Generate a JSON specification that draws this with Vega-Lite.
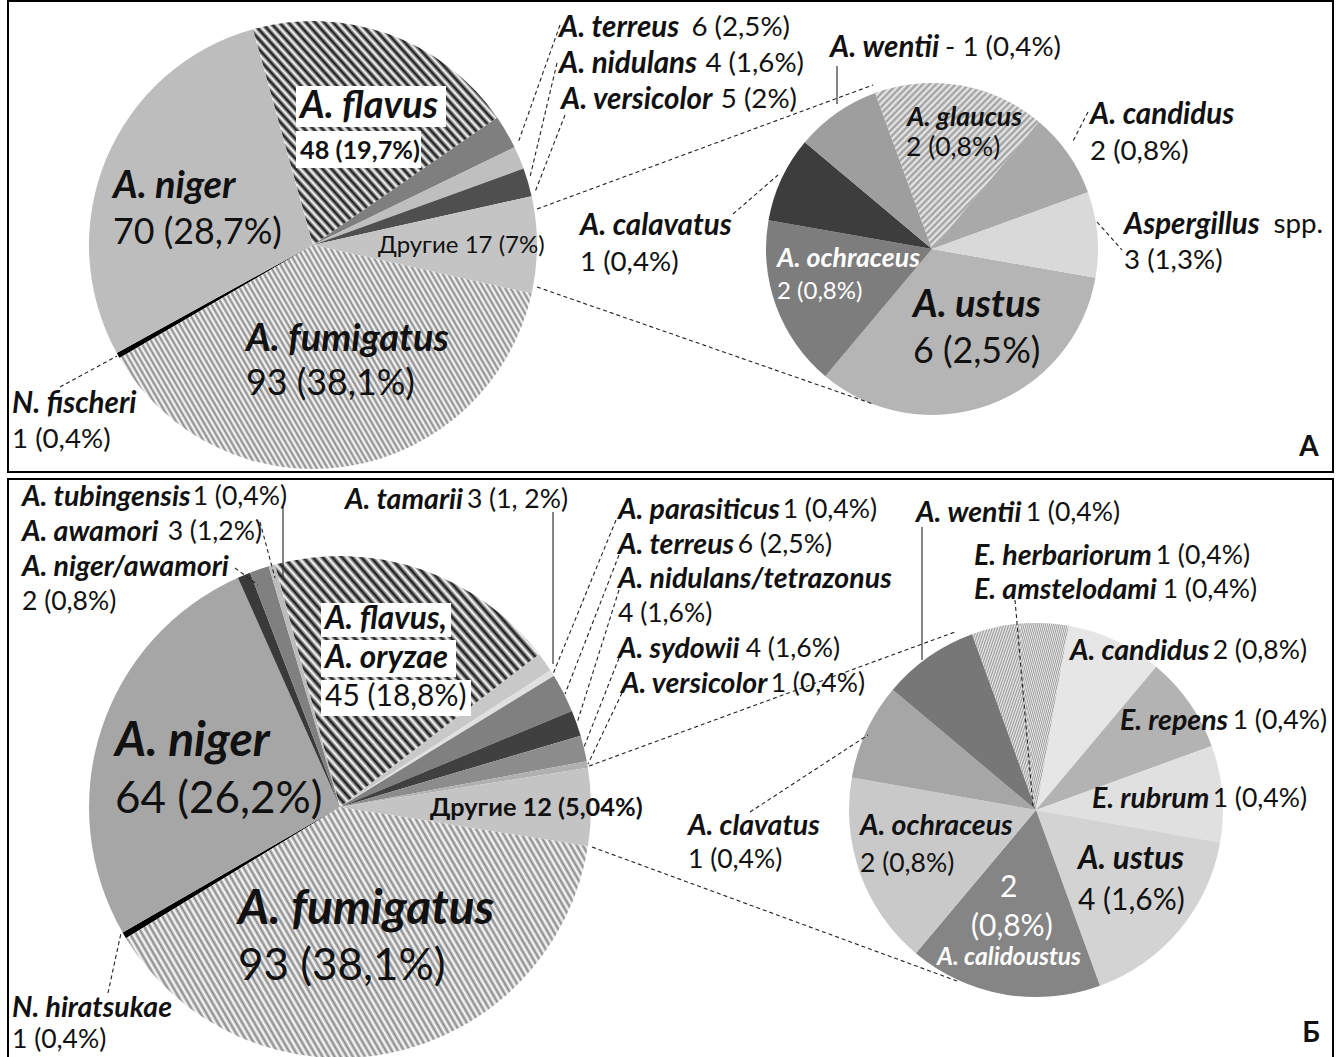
{
"$schema":"https://vega.github.io/schema/vega-lite/v6.json",
"width":1338,"height":1057,"autosize":{"type":"none"},"padding":0,"background":"#ffffff",
"config":{"view":{"stroke":null}},
"datasets":{
"A_main":[{"cat":"A. fumigatus","v":93,"i":1},{"cat":"N. fischeri","v":1,"i":2},{"cat":"A. niger","v":70,"i":3},{"cat":"A. flavus","v":48,"i":4},{"cat":"A. terreus","v":6,"i":5},{"cat":"A. nidulans","v":4,"i":6},{"cat":"A. versicolor","v":5,"i":7},{"cat":"Другие","v":17,"i":8}],
"A_sub":[{"cat":"A. ustus","n":6,"v":4,"i":1},{"cat":"A. ochraceus","n":2,"v":2,"i":2},{"cat":"A. calavatus","n":1,"v":1,"i":3},{"cat":"A. wentii","n":1,"v":1,"i":4},{"cat":"A. glaucus","n":2,"v":2,"i":5},{"cat":"A. candidus","n":2,"v":1,"i":6},{"cat":"Aspergillus spp.","n":3,"v":1,"i":7}],
"B_main":[{"cat":"A. fumigatus","v":93,"i":1},{"cat":"N. hiratsukae","v":1,"i":2},{"cat":"A. niger","v":64,"i":3},{"cat":"A. niger/awamori","v":2,"i":4},{"cat":"A. awamori","v":3,"i":5},{"cat":"A. tubingensis","v":1,"i":6},{"cat":"A. flavus, A. oryzae","v":45,"i":7},{"cat":"A. tamarii","v":3,"i":8},{"cat":"A. parasiticus","v":1,"i":9},{"cat":"A. terreus","v":6,"i":10},{"cat":"A. nidulans/tetrazonus","v":4,"i":11},{"cat":"A. sydowii","v":4,"i":12},{"cat":"A. versicolor","v":1,"i":13},{"cat":"Другие","v":12,"i":14}],
"B_sub":[{"cat":"E. herbariorum","n":1,"v":0.5,"i":1},{"cat":"E. amstelodami","n":1,"v":0.5,"i":2},{"cat":"A. candidus","n":2,"v":1,"i":3},{"cat":"E. repens","n":1,"v":1,"i":4},{"cat":"E. rubrum","n":1,"v":1,"i":5},{"cat":"A. ustus","n":4,"v":2,"i":6},{"cat":"A. calidoustus","n":2,"v":2,"i":7},{"cat":"A. ochraceus","n":2,"v":2,"i":8},{"cat":"A. clavatus","n":1,"v":1,"i":9},{"cat":"A. wentii","n":1,"v":1,"i":10}],
"frames":[{"x":8,"y":1,"x2":1333,"y2":472},{"x":8,"y":479,"x2":1333,"y2":1070}],
"boxes":[{"x":296,"y":86,"x2":446,"y2":127},{"x":296,"y":131,"x2":421,"y2":168},{"x":321,"y":603,"x2":451,"y2":637},{"x":321,"y":640,"x2":456,"y2":677},{"x":321,"y":680,"x2":471,"y2":716}],
"dashed":[{"x":537,"y":209,"x2":873,"y2":85},{"x":537,"y":287,"x2":873,"y2":404},{"x":560,"y":25,"x2":518,"y2":143},{"x":557,"y":63,"x2":530,"y2":177},{"x":565,"y":115,"x2":535,"y2":192},{"x":733,"y":214,"x2":778,"y2":175},{"x":1088,"y":112,"x2":1072,"y2":143},{"x":1097,"y":222,"x2":1122,"y2":250},{"x":60,"y":387,"x2":117,"y2":356},{"x":589,"y":766,"x2":955,"y2":632},{"x":592,"y":847,"x2":957,"y2":981},{"x":260,"y":522,"x2":275,"y2":578},{"x":235,"y":568,"x2":258,"y2":585},{"x":616,"y":520,"x2":553,"y2":674},{"x":619,"y":555,"x2":565,"y2":694},{"x":619,"y":590,"x2":577,"y2":723},{"x":619,"y":658,"x2":584,"y2":747},{"x":622,"y":693,"x2":588,"y2":764},{"x":1015,"y":600,"x2":1033,"y2":806},{"x":750,"y":812,"x2":868,"y2":735},{"x":108,"y":993,"x2":121,"y2":933}],
"solid":[{"x":837,"y":66,"x2":837,"y2":104},{"x":283,"y":507,"x2":283,"y2":578},{"x":553,"y":512,"x2":553,"y2":664},{"x":922,"y":527,"x2":922,"y2":660}],
"names":[{"t":"A. terreus","x":559,"y":28,"tier":"mA","ink":"d"},{"t":"A. nidulans","x":559,"y":64,"tier":"mA","ink":"d"},{"t":"A. versicolor","x":561,"y":100,"tier":"mA","ink":"d"},{"t":"A. wentii","x":830,"y":48,"tier":"mA","ink":"d"},{"t":"A. glaucus","x":907,"y":118,"tier":"sm","ink":"d"},{"t":"A. candidus","x":1090,"y":115,"tier":"mA","ink":"d"},{"t":"Aspergillus","x":1124,"y":225,"tier":"mA","ink":"d"},{"t":"A. calavatus","x":580,"y":226,"tier":"mA","ink":"d"},{"t":"A. ochraceus","x":777,"y":259,"tier":"sm","ink":"l"},{"t":"A. ustus","x":913,"y":306,"tier":"l","ink":"d"},{"t":"A. flavus","x":300,"y":107,"tier":"l","ink":"d"},{"t":"A. niger","x":113,"y":187,"tier":"l","ink":"d"},{"t":"A. fumigatus","x":246,"y":340,"tier":"l","ink":"d"},{"t":"N. fischeri","x":12,"y":404,"tier":"mA","ink":"d"},
{"t":"A. tubingensis","x":22,"y":497,"tier":"m","ink":"d"},{"t":"A. awamori","x":22,"y":532,"tier":"m","ink":"d"},{"t":"A. niger/awamori","x":22,"y":567,"tier":"m","ink":"d"},{"t":"A. tamarii","x":345,"y":500,"tier":"m","ink":"d"},{"t":"A. parasiticus","x":618,"y":510,"tier":"m","ink":"d"},{"t":"A. terreus","x":618,"y":545,"tier":"m","ink":"d"},{"t":"A. nidulans/tetrazonus","x":618,"y":579,"tier":"m","ink":"d"},{"t":"A. sydowii","x":618,"y":649,"tier":"m","ink":"d"},{"t":"A. versicolor","x":621,"y":684,"tier":"m","ink":"d"},{"t":"A. wentii","x":916,"y":513,"tier":"m","ink":"d"},{"t":"E. herbariorum","x":974,"y":556,"tier":"m","ink":"d"},{"t":"E. amstelodami","x":974,"y":590,"tier":"m","ink":"d"},{"t":"A. candidus","x":1070,"y":651,"tier":"m","ink":"d"},{"t":"E. repens","x":1120,"y":721,"tier":"m","ink":"d"},{"t":"E. rubrum","x":1092,"y":799,"tier":"m","ink":"d"},{"t":"A. ustus","x":1078,"y":860,"tier":"ml","ink":"d"},{"t":"A. calidoustus","x":937,"y":958,"tier":"s","ink":"l"},{"t":"A. ochraceus","x":860,"y":826,"tier":"m","ink":"d"},{"t":"A. clavatus","x":688,"y":826,"tier":"m","ink":"d"},{"t":"A. flavus,","x":325,"y":620,"tier":"ml","ink":"d"},{"t":"A. oryzae","x":325,"y":659,"tier":"ml","ink":"d"},{"t":"A. niger","x":115,"y":742,"tier":"xl","ink":"d"},{"t":"A. fumigatus","x":238,"y":910,"tier":"xl","ink":"d"},{"t":"N. hiratsukae","x":12,"y":1008,"tier":"m","ink":"d"}],
"numsR":[{"t":"6 (2,5%)","x":790,"y":28,"tier":"mA","ink":"d"},{"t":"4 (1,6%)","x":804,"y":64,"tier":"mA","ink":"d"},{"t":"5 (2%)","x":797,"y":100,"tier":"mA","ink":"d"},{"t":"- 1 (0,4%)","x":1061,"y":48,"tier":"mA","ink":"d"},{"t":"spp.","x":1323,"y":225,"tier":"mA","ink":"d"},
{"t":"1 (0,4%)","x":287,"y":497,"tier":"m","ink":"d"},{"t":"3 (1,2%)","x":262,"y":532,"tier":"m","ink":"d"},{"t":"3 (1, 2%)","x":568,"y":500,"tier":"m","ink":"d"},{"t":"1 (0,4%)","x":877,"y":510,"tier":"m","ink":"d"},{"t":"6 (2,5%)","x":832,"y":545,"tier":"m","ink":"d"},{"t":"4 (1,6%)","x":840,"y":649,"tier":"m","ink":"d"},{"t":"1 (0,4%)","x":865,"y":684,"tier":"m","ink":"d"},{"t":"1 (0,4%)","x":1120,"y":513,"tier":"m","ink":"d"},{"t":"1 (0,4%)","x":1250,"y":556,"tier":"m","ink":"d"},{"t":"1 (0,4%)","x":1257,"y":590,"tier":"m","ink":"d"},{"t":"2 (0,8%)","x":1307,"y":651,"tier":"m","ink":"d"},{"t":"1 (0,4%)","x":1327,"y":721,"tier":"m","ink":"d"},{"t":"1 (0,4%)","x":1307,"y":799,"tier":"m","ink":"d"}],
"numsL":[{"t":"2 (0,8%)","x":906,"y":148,"tier":"m","ink":"d"},{"t":"2 (0,8%)","x":1090,"y":152,"tier":"mA","ink":"d"},{"t":"3 (1,3%)","x":1124,"y":261,"tier":"mA","ink":"d"},{"t":"1 (0,4%)","x":580,"y":263,"tier":"mA","ink":"d"},{"t":"2 (0,8%)","x":777,"y":292,"tier":"sm","ink":"l"},{"t":"6 (2,5%)","x":913,"y":352,"tier":"l","ink":"d"},{"t":"70 (28,7%)","x":113,"y":233,"tier":"l","ink":"d"},{"t":"93 (38,1%)","x":246,"y":384,"tier":"l","ink":"d"},{"t":"1 (0,4%)","x":12,"y":440,"tier":"mA","ink":"d"},{"t":"Другие 17 (7%)","x":378,"y":246,"tier":"s","ink":"d"},
{"t":"2 (0,8%)","x":22,"y":602,"tier":"m","ink":"d"},{"t":"4 (1,6%)","x":618,"y":614,"tier":"m","ink":"d"},{"t":"4 (1,6%)","x":1078,"y":901,"tier":"ml","ink":"d"},{"t":"2","x":1000,"y":888,"tier":"ml","ink":"l"},{"t":"(0,8%)","x":971,"y":927,"tier":"ml","ink":"l"},{"t":"2 (0,8%)","x":860,"y":864,"tier":"m","ink":"d"},{"t":"1 (0,4%)","x":688,"y":860,"tier":"m","ink":"d"},{"t":"45 (18,8%)","x":325,"y":697,"tier":"ml","ink":"d"},{"t":"64 (26,2%)","x":115,"y":800,"tier":"xl","ink":"d"},{"t":"93 (38,1%)","x":238,"y":967,"tier":"xl","ink":"d"},{"t":"1 (0,4%)","x":12,"y":1040,"tier":"m","ink":"d"}],
"bolds":[{"t":"48 (19,7%)","x":300,"y":151,"tier":"b","ink":"d"},{"t":"Другие 12 (5,04%)","x":430,"y":808,"tier":"b","ink":"d"}],
"tags":[{"t":"А","x":1309,"y":448,"tier":"t","ink":"d"},{"t":"Б","x":1311,"y":1034,"tier":"t","ink":"d"}]
},
"resolve":{"scale":{"theta":"independent","color":"independent","size":"independent"}},
"layer":[
{"data":{"name":"A_main"},"mark":{"type":"arc","outerRadius":224},
"encoding":{"x":{"datum":313,"type":"quantitative","scale":{"domain":[0,1338],"nice":false,"zero":false},"axis":null},"y":{"datum":245,"type":"quantitative","scale":{"domain":[0,1057],"nice":false,"zero":false,"reverse":true},"axis":null},
"theta":{"field":"v","type":"quantitative","stack":true,"scale":{"range":[1.78896,8.07215]}},"order":{"field":"i","type":"quantitative"},
"color":{"field":"cat","type":"nominal","legend":null,"scale":{"domain":["A. fumigatus","N. fischeri","A. niger","A. flavus","A. terreus","A. nidulans","A. versicolor","Другие"],"range":["#ffffff","#000000","#bdbdbd","#ffffff","#7f7f7f","#bfbfbf","#4f4f4f","#c4c4c4"]}}}},
{"data":{"name":"A_main"},"mark":{"type":"arc","outerRadius":224,"fill":{"gradient":"linear","x1":0,"y1":1,"x2":1.196,"y2":0.624,"stops":[{"offset":0,"color":"#fff"},{"offset":0.005,"color":"#888"},{"offset":0.01,"color":"#fff"},{"offset":0.015,"color":"#888"},{"offset":0.02,"color":"#fff"},{"offset":0.025,"color":"#888"},{"offset":0.03,"color":"#fff"},{"offset":0.035,"color":"#888"},{"offset":0.04,"color":"#fff"},{"offset":0.045,"color":"#888"},{"offset":0.05,"color":"#fff"},{"offset":0.055,"color":"#888"},{"offset":0.06,"color":"#fff"},{"offset":0.065,"color":"#888"},{"offset":0.07,"color":"#fff"},{"offset":0.075,"color":"#888"},{"offset":0.08,"color":"#fff"},{"offset":0.085,"color":"#888"},{"offset":0.09,"color":"#fff"},{"offset":0.095,"color":"#888"},{"offset":0.1,"color":"#fff"},{"offset":0.105,"color":"#888"},{"offset":0.11,"color":"#fff"},{"offset":0.115,"color":"#888"},{"offset":0.12,"color":"#fff"},{"offset":0.125,"color":"#888"},{"offset":0.13,"color":"#fff"},{"offset":0.135,"color":"#888"},{"offset":0.14,"color":"#fff"},{"offset":0.145,"color":"#888"},{"offset":0.15,"color":"#fff"},{"offset":0.155,"color":"#888"},{"offset":0.16,"color":"#fff"},{"offset":0.165,"color":"#888"},{"offset":0.17,"color":"#fff"},{"offset":0.175,"color":"#888"},{"offset":0.18,"color":"#fff"},{"offset":0.185,"color":"#888"},{"offset":0.19,"color":"#fff"},{"offset":0.195,"color":"#888"},{"offset":0.2,"color":"#fff"},{"offset":0.205,"color":"#888"},{"offset":0.21,"color":"#fff"},{"offset":0.215,"color":"#888"},{"offset":0.22,"color":"#fff"},{"offset":0.225,"color":"#888"},{"offset":0.23,"color":"#fff"},{"offset":0.235,"color":"#888"},{"offset":0.24,"color":"#fff"},{"offset":0.245,"color":"#888"},{"offset":0.25,"color":"#fff"},{"offset":0.255,"color":"#888"},{"offset":0.26,"color":"#fff"},{"offset":0.265,"color":"#888"},{"offset":0.27,"color":"#fff"},{"offset":0.275,"color":"#888"},{"offset":0.28,"color":"#fff"},{"offset":0.285,"color":"#888"},{"offset":0.29,"color":"#fff"},{"offset":0.295,"color":"#888"},{"offset":0.3,"color":"#fff"},{"offset":0.305,"color":"#888"},{"offset":0.31,"color":"#fff"},{"offset":0.315,"color":"#888"},{"offset":0.32,"color":"#fff"},{"offset":0.325,"color":"#888"},{"offset":0.33,"color":"#fff"},{"offset":0.335,"color":"#888"},{"offset":0.34,"color":"#fff"},{"offset":0.345,"color":"#888"},{"offset":0.35,"color":"#fff"},{"offset":0.355,"color":"#888"},{"offset":0.36,"color":"#fff"},{"offset":0.365,"color":"#888"},{"offset":0.37,"color":"#fff"},{"offset":0.375,"color":"#888"},{"offset":0.38,"color":"#fff"},{"offset":0.385,"color":"#888"},{"offset":0.39,"color":"#fff"},{"offset":0.395,"color":"#888"},{"offset":0.4,"color":"#fff"},{"offset":0.405,"color":"#888"},{"offset":0.41,"color":"#fff"},{"offset":0.415,"color":"#888"},{"offset":0.42,"color":"#fff"},{"offset":0.425,"color":"#888"},{"offset":0.43,"color":"#fff"},{"offset":0.435,"color":"#888"},{"offset":0.44,"color":"#fff"},{"offset":0.445,"color":"#888"},{"offset":0.45,"color":"#fff"},{"offset":0.455,"color":"#888"},{"offset":0.46,"color":"#fff"},{"offset":0.465,"color":"#888"},{"offset":0.47,"color":"#fff"},{"offset":0.475,"color":"#888"},{"offset":0.48,"color":"#fff"},{"offset":0.485,"color":"#888"},{"offset":0.49,"color":"#fff"},{"offset":0.495,"color":"#888"},{"offset":0.5,"color":"#fff"},{"offset":0.505,"color":"#888"},{"offset":0.51,"color":"#fff"},{"offset":0.515,"color":"#888"},{"offset":0.52,"color":"#fff"},{"offset":0.525,"color":"#888"},{"offset":0.53,"color":"#fff"},{"offset":0.535,"color":"#888"},{"offset":0.54,"color":"#fff"},{"offset":0.545,"color":"#888"},{"offset":0.55,"color":"#fff"},{"offset":0.555,"color":"#888"},{"offset":0.56,"color":"#fff"},{"offset":0.565,"color":"#888"},{"offset":0.57,"color":"#fff"},{"offset":0.575,"color":"#888"},{"offset":0.58,"color":"#fff"},{"offset":0.585,"color":"#888"},{"offset":0.59,"color":"#fff"},{"offset":0.595,"color":"#888"},{"offset":0.6,"color":"#fff"},{"offset":0.605,"color":"#888"},{"offset":0.61,"color":"#fff"},{"offset":0.615,"color":"#888"},{"offset":0.62,"color":"#fff"},{"offset":0.625,"color":"#888"},{"offset":0.63,"color":"#fff"},{"offset":0.635,"color":"#888"},{"offset":0.64,"color":"#fff"},{"offset":0.645,"color":"#888"},{"offset":0.65,"color":"#fff"},{"offset":0.655,"color":"#888"},{"offset":0.66,"color":"#fff"},{"offset":0.665,"color":"#888"},{"offset":0.67,"color":"#fff"},{"offset":0.675,"color":"#888"},{"offset":0.68,"color":"#fff"},{"offset":0.685,"color":"#888"},{"offset":0.69,"color":"#fff"},{"offset":0.695,"color":"#888"},{"offset":0.7,"color":"#fff"},{"offset":0.705,"color":"#888"},{"offset":0.71,"color":"#fff"},{"offset":0.715,"color":"#888"},{"offset":0.72,"color":"#fff"},{"offset":0.725,"color":"#888"},{"offset":0.73,"color":"#fff"},{"offset":0.735,"color":"#888"},{"offset":0.74,"color":"#fff"},{"offset":0.745,"color":"#888"},{"offset":0.75,"color":"#fff"},{"offset":0.755,"color":"#888"},{"offset":0.76,"color":"#fff"},{"offset":0.765,"color":"#888"},{"offset":0.77,"color":"#fff"},{"offset":0.775,"color":"#888"},{"offset":0.78,"color":"#fff"},{"offset":0.785,"color":"#888"},{"offset":0.79,"color":"#fff"},{"offset":0.795,"color":"#888"},{"offset":0.8,"color":"#fff"},{"offset":0.805,"color":"#888"},{"offset":0.81,"color":"#fff"},{"offset":0.815,"color":"#888"},{"offset":0.82,"color":"#fff"},{"offset":0.825,"color":"#888"},{"offset":0.83,"color":"#fff"},{"offset":0.835,"color":"#888"},{"offset":0.84,"color":"#fff"},{"offset":0.845,"color":"#888"},{"offset":0.85,"color":"#fff"},{"offset":0.855,"color":"#888"},{"offset":0.86,"color":"#fff"},{"offset":0.865,"color":"#888"},{"offset":0.87,"color":"#fff"},{"offset":0.875,"color":"#888"},{"offset":0.88,"color":"#fff"},{"offset":0.885,"color":"#888"},{"offset":0.89,"color":"#fff"},{"offset":0.895,"color":"#888"},{"offset":0.9,"color":"#fff"},{"offset":0.905,"color":"#888"},{"offset":0.91,"color":"#fff"},{"offset":0.915,"color":"#888"},{"offset":0.92,"color":"#fff"},{"offset":0.925,"color":"#888"},{"offset":0.93,"color":"#fff"},{"offset":0.935,"color":"#888"},{"offset":0.94,"color":"#fff"},{"offset":0.945,"color":"#888"},{"offset":0.95,"color":"#fff"},{"offset":0.955,"color":"#888"},{"offset":0.96,"color":"#fff"},{"offset":0.965,"color":"#888"},{"offset":0.97,"color":"#fff"},{"offset":0.975,"color":"#888"},{"offset":0.98,"color":"#fff"},{"offset":0.985,"color":"#888"},{"offset":0.99,"color":"#fff"},{"offset":0.995,"color":"#888"},{"offset":1,"color":"#fff"}]}},
"encoding":{"x":{"datum":313,"type":"quantitative"},"y":{"datum":245,"type":"quantitative"},
"theta":{"field":"v","type":"quantitative","stack":true,"scale":{"range":[1.78896,8.07215]}},"order":{"field":"i","type":"quantitative"},
"opacity":{"condition":{"test":"datum.cat === 'A. fumigatus'","value":1},"value":0}}},
{"data":{"name":"A_main"},"mark":{"type":"arc","outerRadius":224,"fill":{"gradient":"linear","x1":0,"y1":1,"x2":1.083,"y2":0.1,"stops":[{"offset":0,"color":"#fff"},{"offset":0.01,"color":"#111"},{"offset":0.02,"color":"#fff"},{"offset":0.03,"color":"#111"},{"offset":0.04,"color":"#fff"},{"offset":0.05,"color":"#111"},{"offset":0.06,"color":"#fff"},{"offset":0.07,"color":"#111"},{"offset":0.08,"color":"#fff"},{"offset":0.09,"color":"#111"},{"offset":0.1,"color":"#fff"},{"offset":0.11,"color":"#111"},{"offset":0.12,"color":"#fff"},{"offset":0.13,"color":"#111"},{"offset":0.14,"color":"#fff"},{"offset":0.15,"color":"#111"},{"offset":0.16,"color":"#fff"},{"offset":0.17,"color":"#111"},{"offset":0.18,"color":"#fff"},{"offset":0.19,"color":"#111"},{"offset":0.2,"color":"#fff"},{"offset":0.21,"color":"#111"},{"offset":0.22,"color":"#fff"},{"offset":0.23,"color":"#111"},{"offset":0.24,"color":"#fff"},{"offset":0.25,"color":"#111"},{"offset":0.26,"color":"#fff"},{"offset":0.27,"color":"#111"},{"offset":0.28,"color":"#fff"},{"offset":0.29,"color":"#111"},{"offset":0.3,"color":"#fff"},{"offset":0.31,"color":"#111"},{"offset":0.32,"color":"#fff"},{"offset":0.33,"color":"#111"},{"offset":0.34,"color":"#fff"},{"offset":0.35,"color":"#111"},{"offset":0.36,"color":"#fff"},{"offset":0.37,"color":"#111"},{"offset":0.38,"color":"#fff"},{"offset":0.39,"color":"#111"},{"offset":0.4,"color":"#fff"},{"offset":0.41,"color":"#111"},{"offset":0.42,"color":"#fff"},{"offset":0.43,"color":"#111"},{"offset":0.44,"color":"#fff"},{"offset":0.45,"color":"#111"},{"offset":0.46,"color":"#fff"},{"offset":0.47,"color":"#111"},{"offset":0.48,"color":"#fff"},{"offset":0.49,"color":"#111"},{"offset":0.5,"color":"#fff"},{"offset":0.51,"color":"#111"},{"offset":0.52,"color":"#fff"},{"offset":0.53,"color":"#111"},{"offset":0.54,"color":"#fff"},{"offset":0.55,"color":"#111"},{"offset":0.56,"color":"#fff"},{"offset":0.57,"color":"#111"},{"offset":0.58,"color":"#fff"},{"offset":0.59,"color":"#111"},{"offset":0.6,"color":"#fff"},{"offset":0.61,"color":"#111"},{"offset":0.62,"color":"#fff"},{"offset":0.63,"color":"#111"},{"offset":0.64,"color":"#fff"},{"offset":0.65,"color":"#111"},{"offset":0.66,"color":"#fff"},{"offset":0.67,"color":"#111"},{"offset":0.68,"color":"#fff"},{"offset":0.69,"color":"#111"},{"offset":0.7,"color":"#fff"},{"offset":0.71,"color":"#111"},{"offset":0.72,"color":"#fff"},{"offset":0.73,"color":"#111"},{"offset":0.74,"color":"#fff"},{"offset":0.75,"color":"#111"},{"offset":0.76,"color":"#fff"},{"offset":0.77,"color":"#111"},{"offset":0.78,"color":"#fff"},{"offset":0.79,"color":"#111"},{"offset":0.8,"color":"#fff"},{"offset":0.81,"color":"#111"},{"offset":0.82,"color":"#fff"},{"offset":0.83,"color":"#111"},{"offset":0.84,"color":"#fff"},{"offset":0.85,"color":"#111"},{"offset":0.86,"color":"#fff"},{"offset":0.87,"color":"#111"},{"offset":0.88,"color":"#fff"},{"offset":0.89,"color":"#111"},{"offset":0.9,"color":"#fff"},{"offset":0.91,"color":"#111"},{"offset":0.92,"color":"#fff"},{"offset":0.93,"color":"#111"},{"offset":0.94,"color":"#fff"},{"offset":0.95,"color":"#111"},{"offset":0.96,"color":"#fff"},{"offset":0.97,"color":"#111"},{"offset":0.98,"color":"#fff"},{"offset":0.99,"color":"#111"},{"offset":1,"color":"#fff"}]}},
"encoding":{"x":{"datum":313,"type":"quantitative"},"y":{"datum":245,"type":"quantitative"},
"theta":{"field":"v","type":"quantitative","stack":true,"scale":{"range":[1.78896,8.07215]}},"order":{"field":"i","type":"quantitative"},
"opacity":{"condition":{"test":"datum.cat === 'A. flavus'","value":1},"value":0}}},
{"data":{"name":"A_sub"},"mark":{"type":"arc","outerRadius":166},
"encoding":{"x":{"datum":932,"type":"quantitative"},"y":{"datum":249,"type":"quantitative"},
"theta":{"field":"v","type":"quantitative","stack":true,"scale":{"range":[1.74533,8.02851]}},"order":{"field":"i","type":"quantitative"},
"color":{"field":"cat","type":"nominal","legend":null,"scale":{"domain":["A. ustus","A. ochraceus","A. calavatus","A. wentii","A. glaucus","A. candidus","Aspergillus spp."],"range":["#b5b5b5","#7d7d7d","#3d3d3d","#9e9e9e","#cfcfcf","#a9a9a9","#d9d9d9"]}}}},
{"data":{"name":"A_sub"},"mark":{"type":"arc","outerRadius":166,"fill":{"gradient":"linear","x1":0,"y1":0,"x2":1,"y2":1,"stops":[{"offset":0,"color":"#eee"},{"offset":0.01,"color":"#999"},{"offset":0.02,"color":"#eee"},{"offset":0.03,"color":"#999"},{"offset":0.04,"color":"#eee"},{"offset":0.05,"color":"#999"},{"offset":0.06,"color":"#eee"},{"offset":0.07,"color":"#999"},{"offset":0.08,"color":"#eee"},{"offset":0.09,"color":"#999"},{"offset":0.1,"color":"#eee"},{"offset":0.11,"color":"#999"},{"offset":0.12,"color":"#eee"},{"offset":0.13,"color":"#999"},{"offset":0.14,"color":"#eee"},{"offset":0.15,"color":"#999"},{"offset":0.16,"color":"#eee"},{"offset":0.17,"color":"#999"},{"offset":0.18,"color":"#eee"},{"offset":0.19,"color":"#999"},{"offset":0.2,"color":"#eee"},{"offset":0.21,"color":"#999"},{"offset":0.22,"color":"#eee"},{"offset":0.23,"color":"#999"},{"offset":0.24,"color":"#eee"},{"offset":0.25,"color":"#999"},{"offset":0.26,"color":"#eee"},{"offset":0.27,"color":"#999"},{"offset":0.28,"color":"#eee"},{"offset":0.29,"color":"#999"},{"offset":0.3,"color":"#eee"},{"offset":0.31,"color":"#999"},{"offset":0.32,"color":"#eee"},{"offset":0.33,"color":"#999"},{"offset":0.34,"color":"#eee"},{"offset":0.35,"color":"#999"},{"offset":0.36,"color":"#eee"},{"offset":0.37,"color":"#999"},{"offset":0.38,"color":"#eee"},{"offset":0.39,"color":"#999"},{"offset":0.4,"color":"#eee"},{"offset":0.41,"color":"#999"},{"offset":0.42,"color":"#eee"},{"offset":0.43,"color":"#999"},{"offset":0.44,"color":"#eee"},{"offset":0.45,"color":"#999"},{"offset":0.46,"color":"#eee"},{"offset":0.47,"color":"#999"},{"offset":0.48,"color":"#eee"},{"offset":0.49,"color":"#999"},{"offset":0.5,"color":"#eee"},{"offset":0.51,"color":"#999"},{"offset":0.52,"color":"#eee"},{"offset":0.53,"color":"#999"},{"offset":0.54,"color":"#eee"},{"offset":0.55,"color":"#999"},{"offset":0.56,"color":"#eee"},{"offset":0.57,"color":"#999"},{"offset":0.58,"color":"#eee"},{"offset":0.59,"color":"#999"},{"offset":0.6,"color":"#eee"},{"offset":0.61,"color":"#999"},{"offset":0.62,"color":"#eee"},{"offset":0.63,"color":"#999"},{"offset":0.64,"color":"#eee"},{"offset":0.65,"color":"#999"},{"offset":0.66,"color":"#eee"},{"offset":0.67,"color":"#999"},{"offset":0.68,"color":"#eee"},{"offset":0.69,"color":"#999"},{"offset":0.7,"color":"#eee"},{"offset":0.71,"color":"#999"},{"offset":0.72,"color":"#eee"},{"offset":0.73,"color":"#999"},{"offset":0.74,"color":"#eee"},{"offset":0.75,"color":"#999"},{"offset":0.76,"color":"#eee"},{"offset":0.77,"color":"#999"},{"offset":0.78,"color":"#eee"},{"offset":0.79,"color":"#999"},{"offset":0.8,"color":"#eee"},{"offset":0.81,"color":"#999"},{"offset":0.82,"color":"#eee"},{"offset":0.83,"color":"#999"},{"offset":0.84,"color":"#eee"},{"offset":0.85,"color":"#999"},{"offset":0.86,"color":"#eee"},{"offset":0.87,"color":"#999"},{"offset":0.88,"color":"#eee"},{"offset":0.89,"color":"#999"},{"offset":0.9,"color":"#eee"},{"offset":0.91,"color":"#999"},{"offset":0.92,"color":"#eee"},{"offset":0.93,"color":"#999"},{"offset":0.94,"color":"#eee"},{"offset":0.95,"color":"#999"},{"offset":0.96,"color":"#eee"},{"offset":0.97,"color":"#999"},{"offset":0.98,"color":"#eee"},{"offset":0.99,"color":"#999"},{"offset":1,"color":"#eee"}]}},
"encoding":{"x":{"datum":932,"type":"quantitative"},"y":{"datum":249,"type":"quantitative"},
"theta":{"field":"v","type":"quantitative","stack":true,"scale":{"range":[1.74533,8.02851]}},"order":{"field":"i","type":"quantitative"},
"opacity":{"condition":{"test":"datum.cat === 'A. glaucus'","value":1},"value":0}}},
{"data":{"name":"B_main"},"mark":{"type":"arc","outerRadius":251},
"encoding":{"x":{"datum":340,"type":"quantitative"},"y":{"datum":807,"type":"quantitative"},
"theta":{"field":"v","type":"quantitative","stack":true,"scale":{"range":[1.72788,8.01106]}},"order":{"field":"i","type":"quantitative"},
"color":{"field":"cat","type":"nominal","legend":null,"scale":{"domain":["A. fumigatus","N. hiratsukae","A. niger","A. niger/awamori","A. awamori","A. tubingensis","A. flavus, A. oryzae","A. tamarii","A. parasiticus","A. terreus","A. nidulans/tetrazonus","A. sydowii","A. versicolor","Другие"],"range":["#ffffff","#000000","#a6a6a6","#3a3a3a","#808080","#bcbcbc","#ffffff","#c8c8c8","#e0e0e0","#808080","#404040","#8c8c8c","#b0b0b0","#c4c4c4"]}}}},
{"data":{"name":"B_main"},"mark":{"type":"arc","outerRadius":251,"fill":{"gradient":"linear","x1":0,"y1":1,"x2":1.196,"y2":0.624,"stops":[{"offset":0,"color":"#fff"},{"offset":0.005,"color":"#888"},{"offset":0.01,"color":"#fff"},{"offset":0.015,"color":"#888"},{"offset":0.02,"color":"#fff"},{"offset":0.025,"color":"#888"},{"offset":0.03,"color":"#fff"},{"offset":0.035,"color":"#888"},{"offset":0.04,"color":"#fff"},{"offset":0.045,"color":"#888"},{"offset":0.05,"color":"#fff"},{"offset":0.055,"color":"#888"},{"offset":0.06,"color":"#fff"},{"offset":0.065,"color":"#888"},{"offset":0.07,"color":"#fff"},{"offset":0.075,"color":"#888"},{"offset":0.08,"color":"#fff"},{"offset":0.085,"color":"#888"},{"offset":0.09,"color":"#fff"},{"offset":0.095,"color":"#888"},{"offset":0.1,"color":"#fff"},{"offset":0.105,"color":"#888"},{"offset":0.11,"color":"#fff"},{"offset":0.115,"color":"#888"},{"offset":0.12,"color":"#fff"},{"offset":0.125,"color":"#888"},{"offset":0.13,"color":"#fff"},{"offset":0.135,"color":"#888"},{"offset":0.14,"color":"#fff"},{"offset":0.145,"color":"#888"},{"offset":0.15,"color":"#fff"},{"offset":0.155,"color":"#888"},{"offset":0.16,"color":"#fff"},{"offset":0.165,"color":"#888"},{"offset":0.17,"color":"#fff"},{"offset":0.175,"color":"#888"},{"offset":0.18,"color":"#fff"},{"offset":0.185,"color":"#888"},{"offset":0.19,"color":"#fff"},{"offset":0.195,"color":"#888"},{"offset":0.2,"color":"#fff"},{"offset":0.205,"color":"#888"},{"offset":0.21,"color":"#fff"},{"offset":0.215,"color":"#888"},{"offset":0.22,"color":"#fff"},{"offset":0.225,"color":"#888"},{"offset":0.23,"color":"#fff"},{"offset":0.235,"color":"#888"},{"offset":0.24,"color":"#fff"},{"offset":0.245,"color":"#888"},{"offset":0.25,"color":"#fff"},{"offset":0.255,"color":"#888"},{"offset":0.26,"color":"#fff"},{"offset":0.265,"color":"#888"},{"offset":0.27,"color":"#fff"},{"offset":0.275,"color":"#888"},{"offset":0.28,"color":"#fff"},{"offset":0.285,"color":"#888"},{"offset":0.29,"color":"#fff"},{"offset":0.295,"color":"#888"},{"offset":0.3,"color":"#fff"},{"offset":0.305,"color":"#888"},{"offset":0.31,"color":"#fff"},{"offset":0.315,"color":"#888"},{"offset":0.32,"color":"#fff"},{"offset":0.325,"color":"#888"},{"offset":0.33,"color":"#fff"},{"offset":0.335,"color":"#888"},{"offset":0.34,"color":"#fff"},{"offset":0.345,"color":"#888"},{"offset":0.35,"color":"#fff"},{"offset":0.355,"color":"#888"},{"offset":0.36,"color":"#fff"},{"offset":0.365,"color":"#888"},{"offset":0.37,"color":"#fff"},{"offset":0.375,"color":"#888"},{"offset":0.38,"color":"#fff"},{"offset":0.385,"color":"#888"},{"offset":0.39,"color":"#fff"},{"offset":0.395,"color":"#888"},{"offset":0.4,"color":"#fff"},{"offset":0.405,"color":"#888"},{"offset":0.41,"color":"#fff"},{"offset":0.415,"color":"#888"},{"offset":0.42,"color":"#fff"},{"offset":0.425,"color":"#888"},{"offset":0.43,"color":"#fff"},{"offset":0.435,"color":"#888"},{"offset":0.44,"color":"#fff"},{"offset":0.445,"color":"#888"},{"offset":0.45,"color":"#fff"},{"offset":0.455,"color":"#888"},{"offset":0.46,"color":"#fff"},{"offset":0.465,"color":"#888"},{"offset":0.47,"color":"#fff"},{"offset":0.475,"color":"#888"},{"offset":0.48,"color":"#fff"},{"offset":0.485,"color":"#888"},{"offset":0.49,"color":"#fff"},{"offset":0.495,"color":"#888"},{"offset":0.5,"color":"#fff"},{"offset":0.505,"color":"#888"},{"offset":0.51,"color":"#fff"},{"offset":0.515,"color":"#888"},{"offset":0.52,"color":"#fff"},{"offset":0.525,"color":"#888"},{"offset":0.53,"color":"#fff"},{"offset":0.535,"color":"#888"},{"offset":0.54,"color":"#fff"},{"offset":0.545,"color":"#888"},{"offset":0.55,"color":"#fff"},{"offset":0.555,"color":"#888"},{"offset":0.56,"color":"#fff"},{"offset":0.565,"color":"#888"},{"offset":0.57,"color":"#fff"},{"offset":0.575,"color":"#888"},{"offset":0.58,"color":"#fff"},{"offset":0.585,"color":"#888"},{"offset":0.59,"color":"#fff"},{"offset":0.595,"color":"#888"},{"offset":0.6,"color":"#fff"},{"offset":0.605,"color":"#888"},{"offset":0.61,"color":"#fff"},{"offset":0.615,"color":"#888"},{"offset":0.62,"color":"#fff"},{"offset":0.625,"color":"#888"},{"offset":0.63,"color":"#fff"},{"offset":0.635,"color":"#888"},{"offset":0.64,"color":"#fff"},{"offset":0.645,"color":"#888"},{"offset":0.65,"color":"#fff"},{"offset":0.655,"color":"#888"},{"offset":0.66,"color":"#fff"},{"offset":0.665,"color":"#888"},{"offset":0.67,"color":"#fff"},{"offset":0.675,"color":"#888"},{"offset":0.68,"color":"#fff"},{"offset":0.685,"color":"#888"},{"offset":0.69,"color":"#fff"},{"offset":0.695,"color":"#888"},{"offset":0.7,"color":"#fff"},{"offset":0.705,"color":"#888"},{"offset":0.71,"color":"#fff"},{"offset":0.715,"color":"#888"},{"offset":0.72,"color":"#fff"},{"offset":0.725,"color":"#888"},{"offset":0.73,"color":"#fff"},{"offset":0.735,"color":"#888"},{"offset":0.74,"color":"#fff"},{"offset":0.745,"color":"#888"},{"offset":0.75,"color":"#fff"},{"offset":0.755,"color":"#888"},{"offset":0.76,"color":"#fff"},{"offset":0.765,"color":"#888"},{"offset":0.77,"color":"#fff"},{"offset":0.775,"color":"#888"},{"offset":0.78,"color":"#fff"},{"offset":0.785,"color":"#888"},{"offset":0.79,"color":"#fff"},{"offset":0.795,"color":"#888"},{"offset":0.8,"color":"#fff"},{"offset":0.805,"color":"#888"},{"offset":0.81,"color":"#fff"},{"offset":0.815,"color":"#888"},{"offset":0.82,"color":"#fff"},{"offset":0.825,"color":"#888"},{"offset":0.83,"color":"#fff"},{"offset":0.835,"color":"#888"},{"offset":0.84,"color":"#fff"},{"offset":0.845,"color":"#888"},{"offset":0.85,"color":"#fff"},{"offset":0.855,"color":"#888"},{"offset":0.86,"color":"#fff"},{"offset":0.865,"color":"#888"},{"offset":0.87,"color":"#fff"},{"offset":0.875,"color":"#888"},{"offset":0.88,"color":"#fff"},{"offset":0.885,"color":"#888"},{"offset":0.89,"color":"#fff"},{"offset":0.895,"color":"#888"},{"offset":0.9,"color":"#fff"},{"offset":0.905,"color":"#888"},{"offset":0.91,"color":"#fff"},{"offset":0.915,"color":"#888"},{"offset":0.92,"color":"#fff"},{"offset":0.925,"color":"#888"},{"offset":0.93,"color":"#fff"},{"offset":0.935,"color":"#888"},{"offset":0.94,"color":"#fff"},{"offset":0.945,"color":"#888"},{"offset":0.95,"color":"#fff"},{"offset":0.955,"color":"#888"},{"offset":0.96,"color":"#fff"},{"offset":0.965,"color":"#888"},{"offset":0.97,"color":"#fff"},{"offset":0.975,"color":"#888"},{"offset":0.98,"color":"#fff"},{"offset":0.985,"color":"#888"},{"offset":0.99,"color":"#fff"},{"offset":0.995,"color":"#888"},{"offset":1,"color":"#fff"}]}},
"encoding":{"x":{"datum":340,"type":"quantitative"},"y":{"datum":807,"type":"quantitative"},
"theta":{"field":"v","type":"quantitative","stack":true,"scale":{"range":[1.72788,8.01106]}},"order":{"field":"i","type":"quantitative"},
"opacity":{"condition":{"test":"datum.cat === 'A. fumigatus'","value":1},"value":0}}},
{"data":{"name":"B_main"},"mark":{"type":"arc","outerRadius":251,"fill":{"gradient":"linear","x1":0,"y1":1,"x2":1.083,"y2":0.1,"stops":[{"offset":0,"color":"#fff"},{"offset":0.01,"color":"#111"},{"offset":0.02,"color":"#fff"},{"offset":0.03,"color":"#111"},{"offset":0.04,"color":"#fff"},{"offset":0.05,"color":"#111"},{"offset":0.06,"color":"#fff"},{"offset":0.07,"color":"#111"},{"offset":0.08,"color":"#fff"},{"offset":0.09,"color":"#111"},{"offset":0.1,"color":"#fff"},{"offset":0.11,"color":"#111"},{"offset":0.12,"color":"#fff"},{"offset":0.13,"color":"#111"},{"offset":0.14,"color":"#fff"},{"offset":0.15,"color":"#111"},{"offset":0.16,"color":"#fff"},{"offset":0.17,"color":"#111"},{"offset":0.18,"color":"#fff"},{"offset":0.19,"color":"#111"},{"offset":0.2,"color":"#fff"},{"offset":0.21,"color":"#111"},{"offset":0.22,"color":"#fff"},{"offset":0.23,"color":"#111"},{"offset":0.24,"color":"#fff"},{"offset":0.25,"color":"#111"},{"offset":0.26,"color":"#fff"},{"offset":0.27,"color":"#111"},{"offset":0.28,"color":"#fff"},{"offset":0.29,"color":"#111"},{"offset":0.3,"color":"#fff"},{"offset":0.31,"color":"#111"},{"offset":0.32,"color":"#fff"},{"offset":0.33,"color":"#111"},{"offset":0.34,"color":"#fff"},{"offset":0.35,"color":"#111"},{"offset":0.36,"color":"#fff"},{"offset":0.37,"color":"#111"},{"offset":0.38,"color":"#fff"},{"offset":0.39,"color":"#111"},{"offset":0.4,"color":"#fff"},{"offset":0.41,"color":"#111"},{"offset":0.42,"color":"#fff"},{"offset":0.43,"color":"#111"},{"offset":0.44,"color":"#fff"},{"offset":0.45,"color":"#111"},{"offset":0.46,"color":"#fff"},{"offset":0.47,"color":"#111"},{"offset":0.48,"color":"#fff"},{"offset":0.49,"color":"#111"},{"offset":0.5,"color":"#fff"},{"offset":0.51,"color":"#111"},{"offset":0.52,"color":"#fff"},{"offset":0.53,"color":"#111"},{"offset":0.54,"color":"#fff"},{"offset":0.55,"color":"#111"},{"offset":0.56,"color":"#fff"},{"offset":0.57,"color":"#111"},{"offset":0.58,"color":"#fff"},{"offset":0.59,"color":"#111"},{"offset":0.6,"color":"#fff"},{"offset":0.61,"color":"#111"},{"offset":0.62,"color":"#fff"},{"offset":0.63,"color":"#111"},{"offset":0.64,"color":"#fff"},{"offset":0.65,"color":"#111"},{"offset":0.66,"color":"#fff"},{"offset":0.67,"color":"#111"},{"offset":0.68,"color":"#fff"},{"offset":0.69,"color":"#111"},{"offset":0.7,"color":"#fff"},{"offset":0.71,"color":"#111"},{"offset":0.72,"color":"#fff"},{"offset":0.73,"color":"#111"},{"offset":0.74,"color":"#fff"},{"offset":0.75,"color":"#111"},{"offset":0.76,"color":"#fff"},{"offset":0.77,"color":"#111"},{"offset":0.78,"color":"#fff"},{"offset":0.79,"color":"#111"},{"offset":0.8,"color":"#fff"},{"offset":0.81,"color":"#111"},{"offset":0.82,"color":"#fff"},{"offset":0.83,"color":"#111"},{"offset":0.84,"color":"#fff"},{"offset":0.85,"color":"#111"},{"offset":0.86,"color":"#fff"},{"offset":0.87,"color":"#111"},{"offset":0.88,"color":"#fff"},{"offset":0.89,"color":"#111"},{"offset":0.9,"color":"#fff"},{"offset":0.91,"color":"#111"},{"offset":0.92,"color":"#fff"},{"offset":0.93,"color":"#111"},{"offset":0.94,"color":"#fff"},{"offset":0.95,"color":"#111"},{"offset":0.96,"color":"#fff"},{"offset":0.97,"color":"#111"},{"offset":0.98,"color":"#fff"},{"offset":0.99,"color":"#111"},{"offset":1,"color":"#fff"}]}},
"encoding":{"x":{"datum":340,"type":"quantitative"},"y":{"datum":807,"type":"quantitative"},
"theta":{"field":"v","type":"quantitative","stack":true,"scale":{"range":[1.72788,8.01106]}},"order":{"field":"i","type":"quantitative"},
"opacity":{"condition":{"test":"datum.cat === 'A. flavus, A. oryzae'","value":1},"value":0}}},
{"data":{"name":"B_sub"},"mark":{"type":"arc","outerRadius":187},
"encoding":{"x":{"datum":1036,"type":"quantitative"},"y":{"datum":810,"type":"quantitative"},
"theta":{"field":"v","type":"quantitative","stack":true,"scale":{"range":[5.93412,12.2173]}},"order":{"field":"i","type":"quantitative"},
"color":{"field":"cat","type":"nominal","legend":null,"scale":{"domain":["E. herbariorum","E. amstelodami","A. candidus","E. repens","E. rubrum","A. ustus","A. calidoustus","A. ochraceus","A. clavatus","A. wentii"],"range":["#cfcfcf","#cfcfcf","#e6e6e6","#b3b3b3","#e0e0e0","#d3d3d3","#858585","#c9c9c9","#a6a6a6","#777777"]}}}},
{"data":{"name":"B_sub"},"mark":{"type":"arc","outerRadius":187,"fill":{"gradient":"linear","x1":0,"y1":0,"x2":1,"y2":1,"stops":[{"offset":0,"color":"#eee"},{"offset":0.01,"color":"#999"},{"offset":0.02,"color":"#eee"},{"offset":0.03,"color":"#999"},{"offset":0.04,"color":"#eee"},{"offset":0.05,"color":"#999"},{"offset":0.06,"color":"#eee"},{"offset":0.07,"color":"#999"},{"offset":0.08,"color":"#eee"},{"offset":0.09,"color":"#999"},{"offset":0.1,"color":"#eee"},{"offset":0.11,"color":"#999"},{"offset":0.12,"color":"#eee"},{"offset":0.13,"color":"#999"},{"offset":0.14,"color":"#eee"},{"offset":0.15,"color":"#999"},{"offset":0.16,"color":"#eee"},{"offset":0.17,"color":"#999"},{"offset":0.18,"color":"#eee"},{"offset":0.19,"color":"#999"},{"offset":0.2,"color":"#eee"},{"offset":0.21,"color":"#999"},{"offset":0.22,"color":"#eee"},{"offset":0.23,"color":"#999"},{"offset":0.24,"color":"#eee"},{"offset":0.25,"color":"#999"},{"offset":0.26,"color":"#eee"},{"offset":0.27,"color":"#999"},{"offset":0.28,"color":"#eee"},{"offset":0.29,"color":"#999"},{"offset":0.3,"color":"#eee"},{"offset":0.31,"color":"#999"},{"offset":0.32,"color":"#eee"},{"offset":0.33,"color":"#999"},{"offset":0.34,"color":"#eee"},{"offset":0.35,"color":"#999"},{"offset":0.36,"color":"#eee"},{"offset":0.37,"color":"#999"},{"offset":0.38,"color":"#eee"},{"offset":0.39,"color":"#999"},{"offset":0.4,"color":"#eee"},{"offset":0.41,"color":"#999"},{"offset":0.42,"color":"#eee"},{"offset":0.43,"color":"#999"},{"offset":0.44,"color":"#eee"},{"offset":0.45,"color":"#999"},{"offset":0.46,"color":"#eee"},{"offset":0.47,"color":"#999"},{"offset":0.48,"color":"#eee"},{"offset":0.49,"color":"#999"},{"offset":0.5,"color":"#eee"},{"offset":0.51,"color":"#999"},{"offset":0.52,"color":"#eee"},{"offset":0.53,"color":"#999"},{"offset":0.54,"color":"#eee"},{"offset":0.55,"color":"#999"},{"offset":0.56,"color":"#eee"},{"offset":0.57,"color":"#999"},{"offset":0.58,"color":"#eee"},{"offset":0.59,"color":"#999"},{"offset":0.6,"color":"#eee"},{"offset":0.61,"color":"#999"},{"offset":0.62,"color":"#eee"},{"offset":0.63,"color":"#999"},{"offset":0.64,"color":"#eee"},{"offset":0.65,"color":"#999"},{"offset":0.66,"color":"#eee"},{"offset":0.67,"color":"#999"},{"offset":0.68,"color":"#eee"},{"offset":0.69,"color":"#999"},{"offset":0.7,"color":"#eee"},{"offset":0.71,"color":"#999"},{"offset":0.72,"color":"#eee"},{"offset":0.73,"color":"#999"},{"offset":0.74,"color":"#eee"},{"offset":0.75,"color":"#999"},{"offset":0.76,"color":"#eee"},{"offset":0.77,"color":"#999"},{"offset":0.78,"color":"#eee"},{"offset":0.79,"color":"#999"},{"offset":0.8,"color":"#eee"},{"offset":0.81,"color":"#999"},{"offset":0.82,"color":"#eee"},{"offset":0.83,"color":"#999"},{"offset":0.84,"color":"#eee"},{"offset":0.85,"color":"#999"},{"offset":0.86,"color":"#eee"},{"offset":0.87,"color":"#999"},{"offset":0.88,"color":"#eee"},{"offset":0.89,"color":"#999"},{"offset":0.9,"color":"#eee"},{"offset":0.91,"color":"#999"},{"offset":0.92,"color":"#eee"},{"offset":0.93,"color":"#999"},{"offset":0.94,"color":"#eee"},{"offset":0.95,"color":"#999"},{"offset":0.96,"color":"#eee"},{"offset":0.97,"color":"#999"},{"offset":0.98,"color":"#eee"},{"offset":0.99,"color":"#999"},{"offset":1,"color":"#eee"}]}},
"encoding":{"x":{"datum":1036,"type":"quantitative"},"y":{"datum":810,"type":"quantitative"},
"theta":{"field":"v","type":"quantitative","stack":true,"scale":{"range":[5.93412,12.2173]}},"order":{"field":"i","type":"quantitative"},
"opacity":{"condition":{"test":"datum.cat === 'E. herbariorum' || datum.cat === 'E. amstelodami'","value":1},"value":0}}},
{"data":{"name":"frames"},"mark":{"type":"rect","filled":false,"color":"#000000","strokeWidth":2},
"encoding":{"x":{"field":"x","type":"quantitative"},"x2":{"field":"x2"},"y":{"field":"y","type":"quantitative"},"y2":{"field":"y2"}}},
{"data":{"name":"boxes"},"mark":{"type":"rect","color":"#ffffff","opacity":1},
"encoding":{"x":{"field":"x","type":"quantitative"},"x2":{"field":"x2"},"y":{"field":"y","type":"quantitative"},"y2":{"field":"y2"}}},
{"data":{"name":"dashed"},"mark":{"type":"rule","color":"#222222","strokeWidth":1.1,"strokeDash":[4,3]},
"encoding":{"x":{"field":"x","type":"quantitative"},"x2":{"field":"x2"},"y":{"field":"y","type":"quantitative"},"y2":{"field":"y2"}}},
{"data":{"name":"solid"},"mark":{"type":"rule","color":"#333333","strokeWidth":1.2},
"encoding":{"x":{"field":"x","type":"quantitative"},"x2":{"field":"x2"},"y":{"field":"y","type":"quantitative"},"y2":{"field":"y2"}}},
{"data":{"name":"names"},"mark":{"type":"text","font":"Lato","fontStyle":"italic","fontWeight":"bold","align":"left","baseline":"middle"},
"encoding":{"x":{"field":"x","type":"quantitative"},"y":{"field":"y","type":"quantitative"},"text":{"field":"t"},
"size":{"field":"tier","type":"nominal","legend":null,"scale":{"type":"ordinal","domain":["s","sm","m","mA","ml","l","xl","b","t"],"range":[24.5,26.7,28.5,29.5,31.5,38,48,25.3,28]}},
"color":{"field":"ink","type":"nominal","legend":null,"scale":{"domain":["d","l"],"range":["#111111","#ffffff"]}}}},
{"data":{"name":"numsR"},"mark":{"type":"text","font":"Lato","align":"right","baseline":"middle"},
"encoding":{"x":{"field":"x","type":"quantitative"},"y":{"field":"y","type":"quantitative"},"text":{"field":"t"},
"size":{"field":"tier","type":"nominal","legend":null,"scale":{"type":"ordinal","domain":["s","sm","m","mA","ml","l","xl","b","t"],"range":[24,24,26.5,27.7,30,35.8,44,25.3,28]}},
"color":{"field":"ink","type":"nominal","legend":null,"scale":{"domain":["d","l"],"range":["#111111","#ffffff"]}}}},
{"data":{"name":"numsL"},"mark":{"type":"text","font":"Lato","align":"left","baseline":"middle"},
"encoding":{"x":{"field":"x","type":"quantitative"},"y":{"field":"y","type":"quantitative"},"text":{"field":"t"},
"size":{"field":"tier","type":"nominal","legend":null,"scale":{"type":"ordinal","domain":["s","sm","m","mA","ml","l","xl","b","t"],"range":[24,24,26.5,27.7,30,35.8,44,25.3,28]}},
"color":{"field":"ink","type":"nominal","legend":null,"scale":{"domain":["d","l"],"range":["#111111","#ffffff"]}}}},
{"data":{"name":"bolds"},"mark":{"type":"text","font":"Lato","fontWeight":"bold","align":"left","baseline":"middle"},
"encoding":{"x":{"field":"x","type":"quantitative"},"y":{"field":"y","type":"quantitative"},"text":{"field":"t"},
"size":{"field":"tier","type":"nominal","legend":null,"scale":{"type":"ordinal","domain":["s","sm","m","mA","ml","l","xl","b","t"],"range":[24,24,26.5,27.7,30,35.8,44,25.3,28]}},
"color":{"field":"ink","type":"nominal","legend":null,"scale":{"domain":["d","l"],"range":["#111111","#ffffff"]}}}},
{"data":{"name":"tags"},"mark":{"type":"text","font":"Lato","fontWeight":"bold","align":"center","baseline":"middle"},
"encoding":{"x":{"field":"x","type":"quantitative"},"y":{"field":"y","type":"quantitative"},"text":{"field":"t"},
"size":{"field":"tier","type":"nominal","legend":null,"scale":{"type":"ordinal","domain":["s","sm","m","mA","ml","l","xl","b","t"],"range":[24,24,26.5,27.7,30,35.8,44,25.3,28]}},
"color":{"field":"ink","type":"nominal","legend":null,"scale":{"domain":["d","l"],"range":["#111111","#ffffff"]}}}}
]
}
